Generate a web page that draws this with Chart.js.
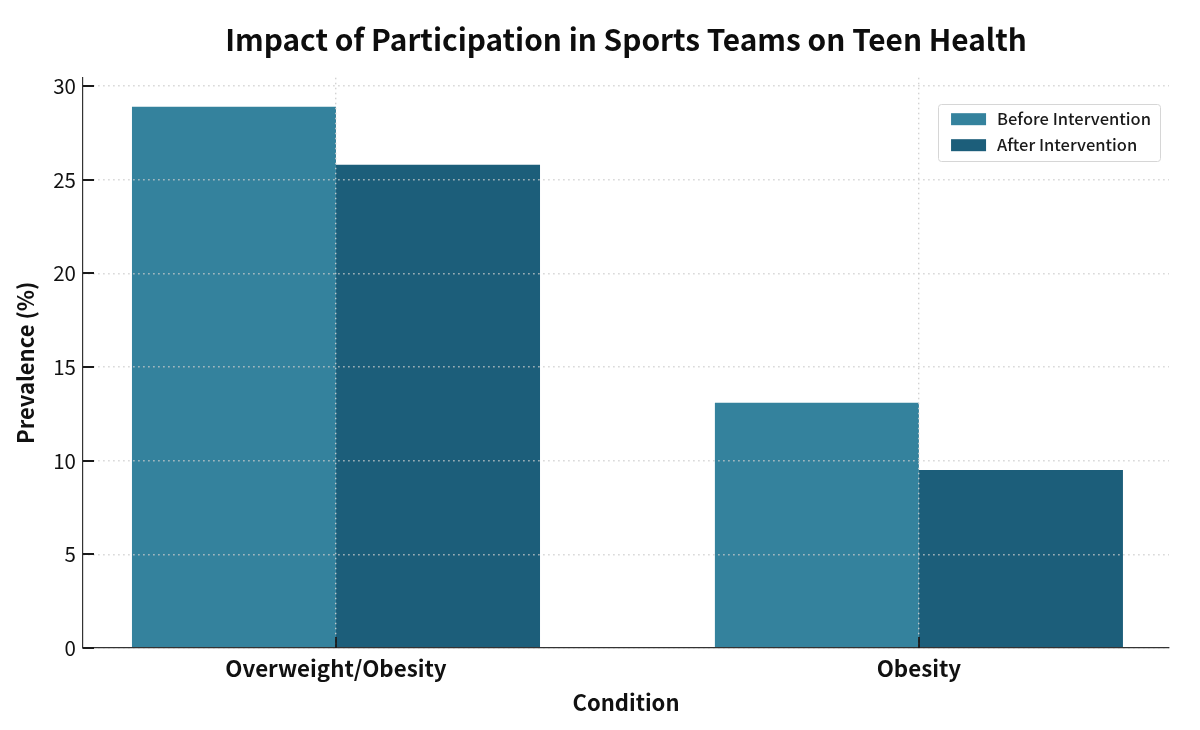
<!DOCTYPE html>
<html><head><meta charset="utf-8">
<script src="https://cdn.jsdelivr.net/npm/chart.js@4.4.0/dist/chart.umd.min.js"></script>
<style>html,body{margin:0;padding:0;background:#fff;}#wrap{width:1200px;height:730px;}</style>
</head><body><div id="wrap"><canvas id="c" width="1200" height="730"></canvas></div>
<script>
const categories = ['Overweight/Obesity', 'Obesity'];
const seriesLabels = ['Before Intervention', 'After Intervention'];
const beforeValues = [28.9, 13.1];
const afterValues = [25.8, 9.5];
const yTickValues = [0, 5, 10, 15, 20, 25, 30];
const titleText = 'Impact of Participation in Sports Teams on Teen Health';
const xAxisTitle = 'Condition';
const yAxisTitle = 'Prevalence (%)';
const seriesColors = ['#34829d', '#1c5e7a'];

const FONT = "'Noto Sans CJK JP', 'Noto Sans', sans-serif";
const xMin = -0.434, xMax = categories.length - 1 + 0.429;
const yMax = 30.45;

const decor = {
  id: 'decor',
  afterDraw(chart) {
    const ctx = chart.ctx, ca = chart.chartArea;
    const ys = chart.scales.y, xs = chart.scales.x;
    ctx.save();
    ctx.strokeStyle = '#1a1a1a';
    ctx.lineWidth = 1.8;
    ctx.beginPath();
    yTickValues.forEach(v => {
      const py = Math.round(ys.getPixelForValue(v));
      ctx.moveTo(ca.left, py); ctx.lineTo(ca.left + 11, py);
    });
    categories.forEach((c, i) => {
      const px = Math.round(xs.getPixelForValue(i));
      ctx.moveTo(px, ca.bottom); ctx.lineTo(px, ca.bottom - 11);
    });
    ctx.stroke();

    // legend
    const ds = chart.data.datasets;
    ctx.font = '500 16.5px ' + FONT;
    const tw = Math.max(...ds.map(d => ctx.measureText(d.label).width));
    const padL = 13, sw = 35, gap = 11, padR = 9, rowH = 26;
    const w = padL + sw + gap + tw + padR;
    const h = 15 + (ds.length - 1) * rowH + 16;
    const right = ca.right - 9, top = ys.getPixelForValue(30) + 18;
    const left = right - w;
    ctx.fillStyle = 'rgba(255,255,255,0.85)';
    ctx.strokeStyle = '#d6d6d6';
    ctx.lineWidth = 1;
    ctx.beginPath();
    ctx.roundRect(Math.round(left) + 0.5, Math.round(top) + 0.5, Math.round(w), Math.round(h), 3);
    ctx.fill(); ctx.stroke();
    ds.forEach((d, i) => {
      const cy = top + 15 + i * rowH;
      ctx.fillStyle = d.backgroundColor;
      ctx.fillRect(left + padL, cy - 6, sw, 12);
      ctx.fillStyle = '#1a1a1a';
      ctx.textBaseline = 'middle';
      ctx.textAlign = 'left';
      ctx.fillText(d.label, left + padL + sw + gap, cy);
    });
    ctx.restore();
  }
};

new Chart(document.getElementById('c'), {
  type: 'bar',
  data: {
    datasets: [
      { label: seriesLabels[0], data: categories.map((c, i) => ({ x: i, y: beforeValues[i] })), backgroundColor: seriesColors[0], borderWidth: 0 },
      { label: seriesLabels[1], data: categories.map((c, i) => ({ x: i, y: afterValues[i] })), backgroundColor: seriesColors[1], borderWidth: 0 }
    ]
  },
  options: {
    responsive: false,
    devicePixelRatio: 1,
    animation: false,
    categoryPercentage: 0.7,
    barPercentage: 1.0,
    layout: { padding: { left: 0, right: 31, top: 0, bottom: 0 } },
    plugins: {
      legend: { display: false },
      tooltip: { enabled: false },
      title: {
        display: true, text: titleText, fullSize: false,
        color: '#0d0d0d', font: { family: FONT, size: 29.8, weight: 'bold', lineHeight: 1.2 },
        padding: { top: 22, bottom: 20 }
      }
    },
    scales: {
      x: {
        type: 'linear', min: xMin, max: xMax, offset: false,
        afterBuildTicks: s => { s.ticks = categories.map((c, i) => ({ value: i })); },
        afterFit: s => { s.height = 82; },
        ticks: { callback: v => categories[v], color: '#111', padding: 7, font: { family: FONT, size: 22.3, weight: 'bold', lineHeight: 1.2 }, autoSkip: false, maxRotation: 0 },
        grid: { color: 'rgba(205,205,205,0.9)', lineWidth: 1.4, drawTicks: false, offset: false, z: 1 },
        border: { display: true, color: '#333', width: 1.2, dash: [1.4, 3.6], z: 2 },
        title: { display: true, text: xAxisTitle, color: '#111', font: { family: FONT, size: 22, weight: 'bold', lineHeight: 1.2 }, padding: { top: 14, bottom: 14 } }
      },
      y: {
        type: 'linear', min: 0, max: yMax,
        afterBuildTicks: s => { s.ticks = yTickValues.map(v => ({ value: v })); },
        afterFit: s => { s.width = 83; },
        ticks: { color: '#111', padding: 7, font: { family: FONT, size: 20.5 } },
        grid: { color: 'rgba(205,205,205,0.9)', lineWidth: 1.4, drawTicks: false, z: 1 },
        border: { display: true, color: '#333', width: 1.2, dash: [1.4, 3.6], z: 2 },
        title: { display: true, text: yAxisTitle, color: '#111', font: { family: FONT, size: 22, weight: 'bold', lineHeight: 1.2 }, padding: { top: 12, bottom: 12 } }
      }
    }
  },
  plugins: [decor]
});
</script></body></html>
